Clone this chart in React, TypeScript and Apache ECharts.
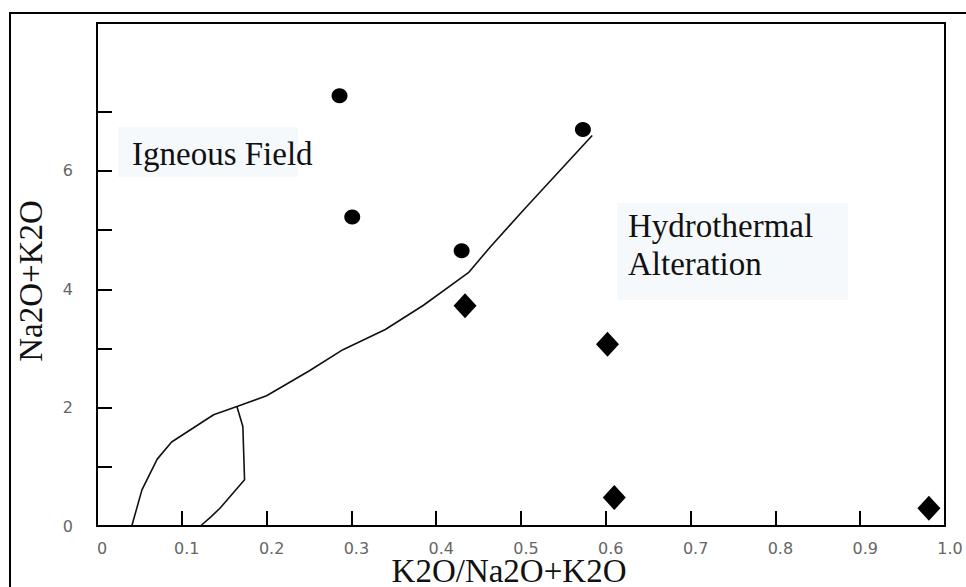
import React, { useEffect, useRef } from "react";
import * as echarts from "echarts";

// Data
const igneousPoints: number[][] = [
  [0.286, 7.27],
  [0.301, 5.22],
  [0.43, 4.65],
  [0.573, 6.7],
];
const alteredPoints: number[][] = [
  [0.434, 3.72],
  [0.602, 3.07],
  [0.61, 0.48],
  [0.981, 0.3],
];
const boundaryMain: number[][] = [
  [0.041, 0],
  [0.053, 0.61],
  [0.071, 1.13],
  [0.088, 1.42],
  [0.1375, 1.88],
  [0.165, 2.02],
  [0.2, 2.2],
  [0.25, 2.62],
  [0.29, 2.98],
  [0.34, 3.32],
  [0.385, 3.73],
  [0.438, 4.28],
  [0.464, 4.72],
  [0.503, 5.34],
  [0.584, 6.6],
];
const boundaryLoop: number[][] = [
  [0.165, 2.02],
  [0.172, 1.68],
  [0.174, 0.78],
  [0.145, 0.3],
  [0.134, 0.15],
  [0.122, 0],
];
const yTickValues = [1, 2, 3, 4, 5, 6, 7];
const yLabelValues = [0, 2, 4, 6];
const xTitle = "K2O/Na2O+K2O";
const yTitle = "Na2O+K2O";
const igneousLabel = "Igneous Field";
const alterationLabel = ["Hydrothermal", "Alteration"];

const SERIF = "Liberation Serif";

function serifText(text: string, align: string) {
  return {
    text,
    fontFamily: SERIF,
    fontSize: 33,
    fill: "#111",
    align,
    verticalAlign: "middle",
  };
}

export default function App() {
  const ref = useRef<HTMLDivElement>(null);
  useEffect(() => {
    if (!ref.current) return;
    const chart = echarts.init(ref.current, undefined, { renderer: "svg" });
    const bgBox = "#f5f9fb";
    chart.setOption({
      animation: false,
      backgroundColor: "#fff",
      grid: {
        left: 97,
        top: 23,
        right: 21,
        bottom: 61,
        show: true,
        borderColor: "#000",
        borderWidth: 2,
        containLabel: false,
      },
      xAxis: {
        type: "value",
        min: 0,
        max: 1,
        interval: 0.1,
        axisLine: { show: true, lineStyle: { color: "#000", width: 2 } },
        axisTick: { show: true, inside: true, length: 15, lineStyle: { color: "#000", width: 2 } },
        splitLine: { show: false },
        axisLabel: {
          margin: 14,
          color: "#666",
          fontSize: 16,
          fontFamily: "DejaVu Sans",
          padding: [0, 0, 0, 10],
          formatter: (v: number) => (v === 0 ? "0" : v >= 1 ? "1.0" : v.toFixed(1)),
        },
      },
      yAxis: {
        type: "value",
        min: 0,
        max: 8.5,
        interval: 1,
        axisLine: { show: true, lineStyle: { color: "#000", width: 2 } },
        axisTick: {
          show: true,
          inside: true,
          length: 15,
          customValues: yTickValues,
          lineStyle: { color: "#000", width: 2 },
        },
        splitLine: { show: false },
        axisLabel: {
          margin: 24,
          color: "#666",
          fontSize: 16,
          fontFamily: "DejaVu Sans",
          customValues: yLabelValues,
        },
      },
      graphic: [
        {
          type: "rect",
          shape: { x: 10, y: 13, width: 1000, height: 700 },
          style: { fill: "none", stroke: "#000", lineWidth: 2 },
          z: 0,
        },
        {
          type: "rect",
          shape: { x: 118, y: 127, width: 180, height: 50 },
          style: { fill: bgBox },
          z: -1,
        },
        {
          type: "rect",
          shape: { x: 617, y: 203, width: 231, height: 97 },
          style: { fill: bgBox },
          z: -1,
        },
        { type: "text", x: 132, y: 154, style: serifText(igneousLabel, "left"), z: 10 },
        { type: "text", x: 628, y: 226, style: serifText(alterationLabel[0], "left"), z: 10 },
        { type: "text", x: 628, y: 264, style: serifText(alterationLabel[1], "left"), z: 10 },
        { type: "text", x: 509, y: 571, style: serifText(xTitle, "center"), z: 10 },
        { type: "text", x: 31, y: 281, rotation: Math.PI / 2, style: serifText(yTitle, "center"), z: 10 },
      ],
      series: [
        {
          type: "line",
          data: boundaryMain,
          symbol: "none",
          smooth: false,
          lineStyle: { color: "#111", width: 1.6 },
          z: 2,
        },
        {
          type: "line",
          data: boundaryLoop,
          symbol: "none",
          smooth: false,
          lineStyle: { color: "#111", width: 1.6 },
          z: 2,
        },
        {
          type: "scatter",
          data: igneousPoints,
          symbol: "circle",
          symbolSize: [16, 15],
          itemStyle: { color: "#000", opacity: 1 },
          z: 3,
        },
        {
          type: "scatter",
          data: alteredPoints,
          symbol: "diamond",
          symbolSize: [23, 25],
          itemStyle: { color: "#000", opacity: 1 },
          z: 3,
        },
      ],
    });
    return () => chart.dispose();
  }, []);
  return (
    <div
      ref={ref}
      style={{ position: "absolute", left: 0, top: 0, width: 966, height: 587, background: "#fff" }}
    />
  );
}
